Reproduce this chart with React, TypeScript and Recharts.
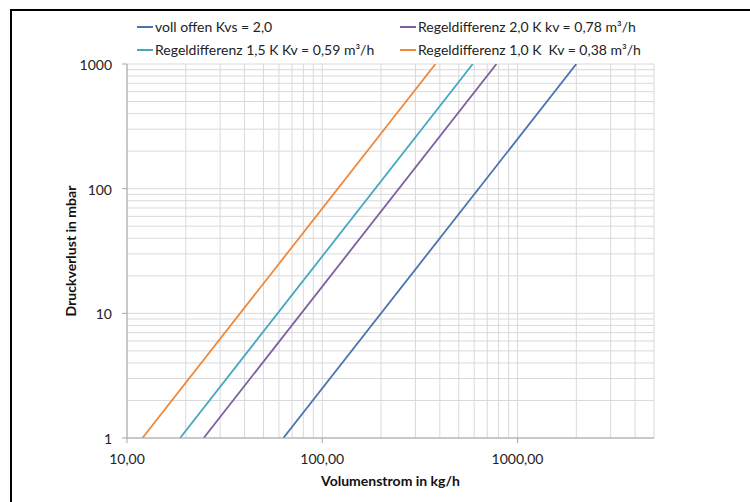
import React from 'react';
import { LineChart, Line, XAxis, YAxis, CartesianGrid, Label } from 'recharts';

// ---- data ----
const seriesNames = [
  'voll offen Kvs = 2,0',
  'Regeldifferenz 2,0 K kv = 0,78 m³/h',
  'Regeldifferenz 1,5 K Kv = 0,59 m³/h',
  'Regeldifferenz 1,0 K  Kv = 0,38 m³/h',
];

// Volumenstrom (kg/h) and Druckverlust (mbar) read at both ends of each line
const vollOffenFlow = [63.2, 2000];
const vollOffenLoss = [1, 1000];
const diff20Flow = [24.7, 780];
const diff20Loss = [1, 1000];
const diff15Flow = [18.7, 590];
const diff15Loss = [1, 1000];
const diff10Flow = [12.0, 380];
const diff10Loss = [1, 1000];

const xGridTicks = [10, 20, 30, 40, 50, 60, 70, 80, 90, 100, 200, 300, 400, 500, 600, 700, 800, 900, 1000, 2000, 3000, 4000, 5000];
const xMajorTicks = [10, 100, 1000];
const xTickLabels = ['10,00', '100,00', '1000,00'];
const yGridTicks = [1, 2, 3, 4, 5, 6, 7, 8, 9, 10, 20, 30, 40, 50, 60, 70, 80, 90, 100, 200, 300, 400, 500, 600, 700, 800, 900, 1000];
const yMajorTicks = [1, 10, 100, 1000];
const yTickLabels = ['1', '10', '100', '1000'];

const xTitle = 'Volumenstrom in kg/h';
const yTitle = 'Druckverlust in mbar';

// ---- styles ----
const colors = ['#4A74B0', '#7D5FA0', '#47A7C1', '#F0883A'];
const FONT = 'Lato, "Open Sans", sans-serif';

const toPoints = (xs: number[], ys: number[]) => xs.map((x, i) => ({ x, y: ys[i] }));
const seriesData = [
  toPoints(vollOffenFlow, vollOffenLoss),
  toPoints(diff20Flow, diff20Loss),
  toPoints(diff15Flow, diff15Loss),
  toPoints(diff10Flow, diff10Loss),
];

const XTick = (props: any) => {
  const { x, y, payload } = props;
  const idx = xMajorTicks.indexOf(payload.value);
  if (idx < 0) return null;
  return (
    <g>
      <line x1={x} x2={x} y1={y} y2={y + 5} stroke="#a6a6a6" />
      <text x={x} y={y + 26} textAnchor="middle" fontFamily={FONT} fontSize={14} fill="#222">
        {xTickLabels[idx]}
      </text>
    </g>
  );
};

const YTick = (props: any) => {
  const { x, y, payload } = props;
  const idx = yMajorTicks.indexOf(payload.value);
  if (idx < 0) return null;
  return (
    <g>
      <line x1={x - 5} x2={x} y1={y} y2={y} stroke="#a6a6a6" />
      <text x={x - 15} y={y + 6} textAnchor="end" fontFamily={FONT} fontSize={14} fill="#222">
        {yTickLabels[idx]}
      </text>
    </g>
  );
};

const legendPos = [
  { left: 137, top: 18 },
  { left: 400, top: 18 },
  { left: 137, top: 41 },
  { left: 400, top: 41 },
];

export default function App() {
  return (
    <div style={{ position: 'absolute', left: 0, top: 0, width: 750, height: 502, overflow: 'hidden', background: '#fff' }}>
      <div style={{ position: 'absolute', left: 10, top: 9, width: 800, height: 600, border: '2px solid #000' }} />
      <div style={{ position: 'absolute', left: 0, top: 0 }}>
        <LineChart width={750} height={502} margin={{ top: 64, right: 96, left: 0, bottom: 0 }}>
          <CartesianGrid stroke="#d9d9d9" strokeWidth={1} />
          <XAxis
            type="number"
            dataKey="x"
            scale="log"
            domain={[10, 5000]}
            ticks={xGridTicks}
            allowDataOverflow
            height={64}
            tickLine={false}
            tickSize={0}
            tickMargin={0}
            tick={<XTick />}
            axisLine={{ stroke: '#a6a6a6' }}
            interval={0}
          >
            <Label
              value={xTitle}
              position="insideBottom"
              offset={16}
              style={{ fontFamily: FONT, fontSize: 14, fontWeight: 700, fill: '#111' }}
            />
          </XAxis>
          <YAxis
            type="number"
            dataKey="y"
            scale="log"
            domain={[1, 1000]}
            ticks={yGridTicks}
            allowDataOverflow
            width={127}
            tickLine={false}
            tickSize={0}
            tickMargin={0}
            tick={<YTick />}
            axisLine={{ stroke: '#a6a6a6' }}
            interval={0}
          >
            <Label
              value={yTitle}
              angle={-90}
              position="insideLeft"
              offset={71}
              style={{ fontFamily: FONT, fontSize: 14, fontWeight: 700, fill: '#111', textAnchor: 'middle' }}
            />
          </YAxis>
          {seriesData.map((d, i) => (
            <Line
              key={seriesNames[i]}
              data={d}
              dataKey="y"
              name={seriesNames[i]}
              stroke={colors[i]}
              strokeWidth={1.8}
              dot={false}
              activeDot={false}
              isAnimationActive={false}
            />
          ))}
        </LineChart>
      </div>
      {seriesNames.map((n, i) => (
        <div
          key={n}
          style={{
            position: 'absolute',
            left: legendPos[i].left,
            top: legendPos[i].top,
            display: 'flex',
            alignItems: 'center',
            fontFamily: FONT,
            fontSize: 14,
            color: '#222',
            whiteSpace: 'pre',
            lineHeight: '18px',
          }}
        >
          <span style={{ display: 'inline-block', width: 16, height: 2, background: colors[i], marginRight: 2 }} />
          <span>{n}</span>
        </div>
      ))}
    </div>
  );
}
